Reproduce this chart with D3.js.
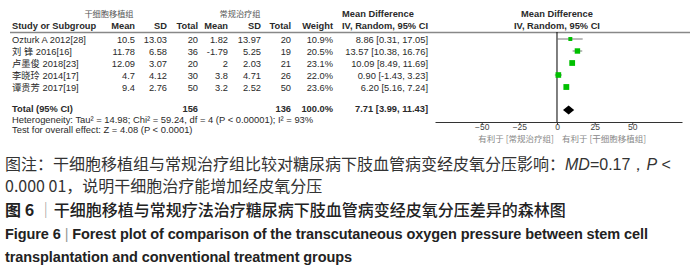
<!DOCTYPE html>
<html>
<head>
<meta charset="utf-8">
<script src="https://cdn.jsdelivr.net/npm/d3@7"></script>
<style>
  body { margin: 0; background: #fff; }
  svg { display: block; }
</style>
</head>
<body>
<div id="chart"></div>
<script>
// study rows
var studies = ["Ozturk A 2012[28]", "刘 锋 2016[16]", "卢墨俊 2018[23]", "李晓玲 2014[17]", "谭贵芳 2017[19]"];
var expMean = ["10.5", "11.78", "12.09", "4.7", "9.4"];
var expSD = ["13.03", "6.58", "3.07", "4.12", "2.76"];
var expN = [20, 36, 20, 30, 50];
var ctlMean = ["1.82", "-1.79", "2", "3.8", "3.2"];
var ctlSD = ["13.97", "5.25", "2.03", "4.71", "2.52"];
var ctlN = [20, 19, 21, 26, 50];
var weights = [10.9, 20.5, 23.1, 22.0, 23.6];
var md = [8.86, 13.57, 10.09, 0.90, 6.20];
var ciLow = [0.31, 10.38, 8.49, -1.43, 5.16];
var ciHigh = [17.05, 16.76, 11.69, 3.23, 7.24];
var mdText = ["8.86 [0.31, 17.05]", "13.57 [10.38, 16.76]", "10.09 [8.49, 11.69]", "0.90 [-1.43, 3.23]", "6.20 [5.16, 7.24]"];
// pooled
var total = { est: 7.71, lo: 3.99, hi: 11.43, expN: 156, ctlN: 136, text: "7.71 [3.99, 11.43]" };
var axisTicks = [-50, -25, 0, 25, 50];

var W = 700, H = 271;
var svg = d3.select("#chart").append("svg").attr("width", W).attr("height", H);

var ink = "#2a2a2a";
var fontLat = "'Liberation Sans', Arial, sans-serif";
var fontCJK = "'Liberation Sans', 'Noto Sans CJK SC', sans-serif";
var base = 9.3;

// column right edges
var cols = { mean1: 135, sd1: 167, n1: 198, mean2: 228, sd2: 261, n2: 291, w: 333, ci: 428 };

var x = d3.scaleLinear().domain([-81, 83]).range([435, 682]);
var rowY = d3.scalePoint().domain(d3.range(studies.length)).range([39, 87]);
var boxSize = d3.scaleSqrt().domain([0, 25]).range([0, 6]);

function txt(g, xx, yy, s, opt) {
  opt = opt || {};
  return g.append("text")
    .attr("x", xx).attr("y", yy)
    .attr("text-anchor", opt.anchor || "start")
    .attr("dominant-baseline", "middle")
    .style("font-family", opt.family || fontCJK)
    .style("font-size", (opt.size || base) + "px")
    .style("font-weight", opt.bold ? "bold" : "normal")
    .style("fill", opt.fill || ink)
    .text(s);
}

var g = svg.append("g");

// headers
txt(g, 109, 15, "干细胞移植组", { anchor: "middle", family: "'Noto Sans CJK SC', sans-serif", size: 8.2, fill: "#555" });
txt(g, 240, 15, "常规治疗组", { anchor: "middle", family: "'Noto Sans CJK SC', sans-serif", size: 8.2, fill: "#555" });
txt(g, 12, 27, "Study or Subgroup", { bold: true });
txt(g, cols.mean1, 27, "Mean", { anchor: "end", bold: true });
txt(g, cols.sd1, 27, "SD", { anchor: "end", bold: true });
txt(g, cols.n1, 27, "Total", { anchor: "end", bold: true });
txt(g, cols.mean2, 27, "Mean", { anchor: "end", bold: true });
txt(g, cols.sd2, 27, "SD", { anchor: "end", bold: true });
txt(g, cols.n2, 27, "Total", { anchor: "end", bold: true });
txt(g, cols.w, 27, "Weight", { anchor: "end", bold: true });
txt(g, 378, 15, "Mean Difference", { anchor: "middle", bold: true });
txt(g, 385, 27, "IV, Random, 95% CI", { anchor: "middle", bold: true });
txt(g, x(0), 15, "Mean Difference", { anchor: "middle", bold: true });
txt(g, x(0), 27, "IV, Random, 95% CI", { anchor: "middle", bold: true });

g.append("line").attr("x1", 10).attr("x2", 690).attr("y1", 32.5).attr("y2", 32.5)
  .attr("stroke", "#888").attr("stroke-width", 1.3);

// study rows
studies.forEach(function(s, i) {
  var y = rowY(i) + 1.5;
  txt(g, 12, y, s);
  txt(g, cols.mean1, y, expMean[i], { anchor: "end" });
  txt(g, cols.sd1, y, expSD[i], { anchor: "end" });
  txt(g, cols.n1, y, expN[i], { anchor: "end" });
  txt(g, cols.mean2, y, ctlMean[i], { anchor: "end" });
  txt(g, cols.sd2, y, ctlSD[i], { anchor: "end" });
  txt(g, cols.n2, y, ctlN[i], { anchor: "end" });
  txt(g, cols.w, y, weights[i].toFixed(1) + "%", { anchor: "end" });
  txt(g, cols.ci, y, mdText[i], { anchor: "end" });
});

// total row
var ty = 110;
txt(g, 12, ty, "Total (95% CI)", { bold: true });
txt(g, cols.n1, ty, total.expN, { anchor: "end", bold: true });
txt(g, cols.n2, ty, total.ctlN, { anchor: "end", bold: true });
txt(g, cols.w, ty, "100.0%", { anchor: "end", bold: true });
txt(g, cols.ci, ty, total.text, { anchor: "end", bold: true });
txt(g, 12, 121, "Heterogeneity: Tau² = 14.98; Chi² = 59.24, df = 4 (P < 0.00001); I² = 93%", { size: 9.4 });
txt(g, 12, 131, "Test for overall effect: Z = 4.08 (P < 0.0001)", { size: 9.4 });

// forest plot
var axisY = 122;
g.append("line").attr("x1", x(0)).attr("x2", x(0)).attr("y1", 32).attr("y2", axisY)
  .attr("stroke", "#000").attr("stroke-width", 1);

var fp = g.append("g");
fp.selectAll(".ci").data(md).enter().append("line")
  .attr("x1", function(d, i) { return x(ciLow[i]); })
  .attr("x2", function(d, i) { return x(ciHigh[i]); })
  .attr("y1", function(d, i) { return rowY(i); })
  .attr("y2", function(d, i) { return rowY(i); })
  .attr("stroke", "#555").attr("stroke-width", 0.8);
fp.selectAll(".box").data(md).enter().append("rect")
  .attr("x", function(d, i) { return x(d) - boxSize(weights[i]) / 2; })
  .attr("y", function(d, i) { return rowY(i) - boxSize(weights[i]) / 2; })
  .attr("width", function(d, i) { return boxSize(weights[i]); })
  .attr("height", function(d, i) { return boxSize(weights[i]); })
  .attr("fill", "#00c000");

fp.append("path")
  .attr("d", "M" + x(total.lo) + "," + ty + "L" + x(total.est) + "," + (ty - 4.5) +
       "L" + x(total.hi) + "," + ty + "L" + x(total.est) + "," + (ty + 4.5) + "Z")
  .attr("fill", "#000");

var ax = g.append("g").attr("transform", "translate(0," + axisY + ")")
  .call(d3.axisBottom(x).tickValues(axisTicks).tickSize(3).tickSizeOuter(0));
ax.select(".domain").attr("stroke", "#333");
ax.selectAll(".tick line").attr("stroke", "#333");
ax.selectAll("text").attr("dy", "0.5em").attr("y", 4)
  .style("font-family", fontLat).style("font-size", "8.5px").style("fill", "#444");

txt(g, x(0) - 3, 140, "有利于 [常规治疗组]", { anchor: "end", family: "'Noto Sans CJK SC', sans-serif", size: 8.5, fill: "#888" });
txt(g, x(0) + 5, 140, "有利于 [干细胞移植组]", { anchor: "start", family: "'Noto Sans CJK SC', sans-serif", size: 8.5, fill: "#888" });

// captions
var cjk = "'Noto Sans CJK SC', sans-serif";
var cap = svg.append("g").style("fill", "#333");
var c1 = cap.append("text").attr("x", 5).attr("y", 170)
  .style("font-family", cjk).style("font-size", "16px");
c1.append("tspan").text("图注：干细胞移植组与常规治疗组比较对糖尿病下肢血管病变经皮氧分压影响：");
c1.append("tspan").style("font-style", "italic").style("font-family", fontLat).text("MD");
c1.append("tspan").style("font-family", fontLat).text("=0.17，");
c1.append("tspan").style("font-style", "italic").style("font-family", fontLat).text("P");
c1.append("tspan").style("font-family", fontLat).text(" <");

cap.append("text").attr("x", 5).attr("y", 192)
  .style("font-family", cjk).style("font-size", "16px")
  .text("0.000 01，说明干细胞治疗能增加经皮氧分压");

var c3 = cap.append("text").attr("x", 5).attr("y", 216)
  .style("font-family", cjk).style("font-size", "16px").style("fill", "#222");
c3.append("tspan").style("font-weight", "bold").text("图 6 ");
c3.append("tspan").style("fill", "#999").text("｜");
c3.append("tspan").style("font-weight", "500").text("干细胞移植与常规疗法治疗糖尿病下肢血管病变经皮氧分压差异的森林图");

var engFont = "'Liberation Sans Narrow', 'Liberation Sans', sans-serif";
var c4 = cap.append("text").attr("x", 5).attr("y", 239).attr("textLength", 643)
  .style("font-family", engFont).style("font-size", "14.5px").style("font-weight", "bold").style("fill", "#222");
c4.append("tspan").text("Figure 6 ");
c4.append("tspan").style("fill", "#999").style("font-weight", "normal").text(" |  ");
c4.append("tspan").text("Forest plot of comparison of the transcutaneous oxygen pressure between stem cell");

cap.append("text").attr("x", 5).attr("y", 262).attr("textLength", 347)
  .style("font-family", engFont).style("font-size", "14.5px").style("font-weight", "bold").style("fill", "#222")
  .text("transplantation and conventional treatment groups");
</script>
</body>
</html>
